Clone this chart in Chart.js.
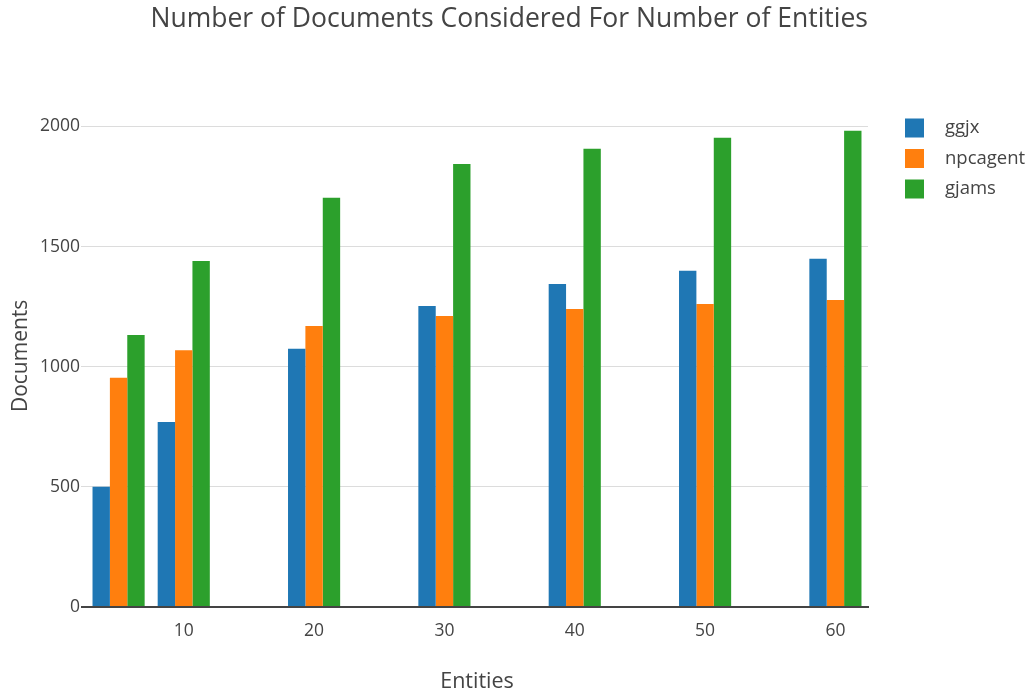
<!DOCTYPE html>
<html>
<head>
<meta charset="utf-8">
<script src="https://cdn.jsdelivr.net/npm/chart.js@4"></script>
<style>
  html, body { margin: 0; padding: 0; background: #fff; }
  #wrap { width: 1032px; height: 692px; }
</style>
</head>
<body>
<div id="wrap"><canvas id="docs"></canvas></div>
<script>
const entities = [5, 10, 20, 30, 40, 50, 60];
const ggjx = [500, 770, 1075, 1253, 1344, 1399, 1449];
const npcagent = [954, 1069, 1169, 1211, 1240, 1261, 1278];
const gjams = [1132, 1440, 1703, 1844, 1907, 1953, 1982];
const xTicks = [10, 20, 30, 40, 50, 60];
const yTicks = [0, 500, 1000, 1500, 2000];

const FONT = "'Open Sans', sans-serif";
const TEXT = "#444";

const toPoints = vals => entities.map((x, i) => ({ x: x, y: vals[i] }));

// legend on the right, drawn from the datasets
const sideLegend = {
  id: "sideLegend",
  afterDraw(chart) {
    const ctx = chart.ctx;
    ctx.save();
    ctx.font = "18.5px " + FONT;
    ctx.textBaseline = "middle";
    chart.data.datasets.forEach((ds, i) => {
      const cy = 128 + i * 30.5;
      ctx.fillStyle = ds.backgroundColor;
      ctx.fillRect(905, cy - 9.5, 19, 19);
      ctx.fillStyle = TEXT;
      ctx.fillText(ds.label, 945, cy);
    });
    ctx.restore();
  }
};

const ctx = document.getElementById("docs").getContext("2d");
const chart = new Chart(ctx, {
  type: "bar",
  data: {
    datasets: [
      { label: "ggjx", data: toPoints(ggjx), backgroundColor: "#1f77b4" },
      { label: "npcagent", data: toPoints(npcagent), backgroundColor: "#ff7f0e" },
      { label: "gjams", data: toPoints(gjams), backgroundColor: "#2ca02c" }
    ]
  },
  options: {
    responsive: true,
    maintainAspectRatio: false,
    animation: false,
    layout: { padding: { left: 0, right: 164, top: 0, bottom: 0 } },
    datasets: { bar: { categoryPercentage: 0.8, barPercentage: 1.0 } },
    plugins: {
      legend: { display: false },
      tooltip: { enabled: false },
      title: {
        display: true,
        text: "Number of Documents Considered For Number of Entities",
        align: "end",
        color: TEXT,
        font: { family: FONT, size: 26.5, weight: "normal" },
        padding: { top: 4, bottom: 69 }
      }
    },
    scales: {
      x: {
        type: "linear",
        min: 2.5,
        max: 62.5,
        offset: false,
        grid: { display: false, offset: false },
        border: { display: true, color: TEXT, width: 2 },
        afterBuildTicks: axis => { axis.ticks = xTicks.map(v => ({ value: v })); },
        afterFit: axis => { axis.height = 85; },
        ticks: {
          color: TEXT,
          font: { family: FONT, size: 17.5 },
          padding: 6,
          maxRotation: 0
        },
        title: {
          display: true,
          text: "Entities",
          color: TEXT,
          font: { family: FONT, size: 21.5 },
          padding: { top: 0, bottom: -3 }
        }
      },
      y: {
        min: 0,
        max: 2090,
        afterBuildTicks: axis => { axis.ticks = yTicks.map(v => ({ value: v })); },
        afterFit: axis => { axis.width = 86; },
        grid: {
          color: c => (c.tick && c.tick.value === 0 ? TEXT : "#dcdcdc"),
          lineWidth: c => (c.tick && c.tick.value === 0 ? 2 : 1),
          tickLength: 5
        },
        border: { display: false },
        ticks: {
          color: TEXT,
          font: { family: FONT, size: 17.5 },
          padding: 1,
          callback: v => String(v)
        },
        title: {
          display: true,
          text: "Documents",
          color: TEXT,
          font: { family: FONT, size: 21 },
          padding: { top: 8, bottom: 0 }
        }
      }
    }
  },
  plugins: [sideLegend]
});
</script>
</body>
</html>
